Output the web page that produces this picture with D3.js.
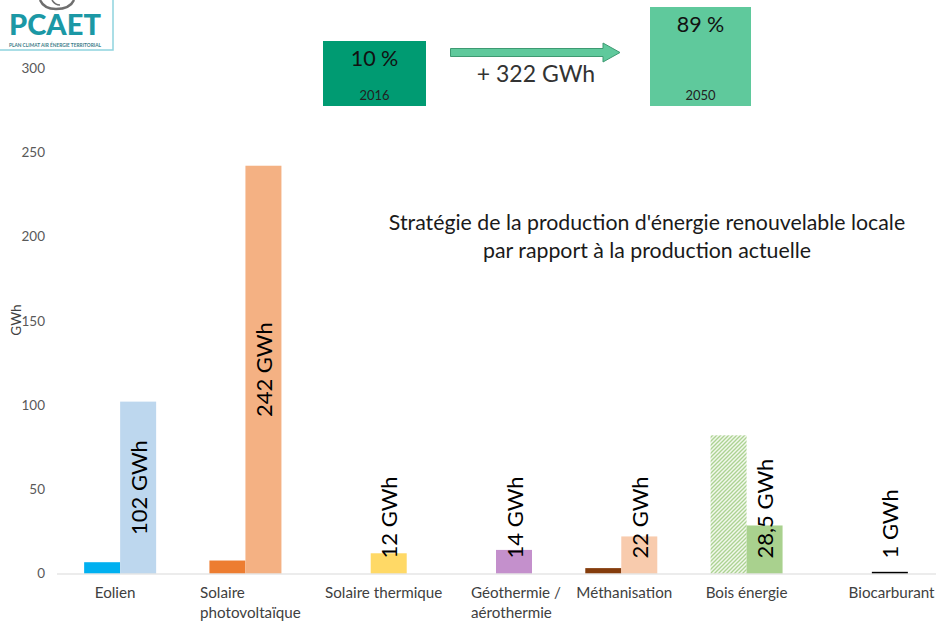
<!DOCTYPE html>
<html lang="fr">
<head>
<meta charset="utf-8">
<script src="https://cdn.jsdelivr.net/npm/d3@7"></script>
<style>
  html, body { margin: 0; padding: 0; background: #fff; }
  svg { display: block; font-family: Lato, "Open Sans", sans-serif; }
</style>
</head>
<body>
<svg id="chart" width="936" height="623"></svg>
<script>
// Production d'énergie renouvelable locale (GWh), actuelle et objectif 2050
const categories = ["Eolien", "Solaire photovoltaïque", "Solaire thermique",
  "Géothermie / aérothermie", "Méthanisation", "Bois énergie", "Biocarburant"];
const categoryLines = [["Eolien"], ["Solaire", "photovoltaïque"], ["Solaire thermique"],
  ["Géothermie /", "aérothermie"], ["Méthanisation"], ["Bois énergie"], ["Biocarburant"]];
const prodActuelle = [6.7, 7.7, 0, 0, 3.2, 82, 0];
const prod2050 = [102, 242, 12, 14, 22, 28.5, 1];
const colorsActuelle = ["#00b0f0", "#ed7d31", "#ffd966", "#c490cc", "#843c0c", "hatch", "#000000"];
const colors2050 = ["#bdd7ee", "#f4b183", "#ffd966", "#c490cc", "#f8cbad", "#a9d18e", "#000000"];
const yTicks = [0, 50, 100, 150, 200, 250, 300];
const partEnR = [{ year: "2016", pct: "10 %" }, { year: "2050", pct: "89 %" }];
const gainLabel = "+ 322 GWh";

const svg = d3.select("#chart");
const fr = d3.formatLocale({ decimal: ",", thousands: " ", grouping: [3], currency: ["", " €"] });
const fmt = v => fr.format(",")(v) + " GWh";

const baseY = 573.5;
const y = d3.scaleLinear().domain([0, 300]).range([baseY, 68]);
const x0 = d3.scaleBand().domain(categories).range([57.5, 934.5]).padding(0);
const bw = x0.bandwidth();
const x1 = d3.scaleBand().domain(["actuelle", "2050"])
  .range([bw / 2 - 36, bw / 2 + 36]).padding(0);

// Hachures pour la production bois énergie actuelle
const defs = svg.append("defs");
const pat = defs.append("pattern").attr("id", "hatch")
  .attr("patternUnits", "userSpaceOnUse").attr("width", 4).attr("height", 4);
pat.append("rect").attr("width", 4).attr("height", 4).attr("fill", "#f4f9ef");
pat.append("path").attr("d", "M-1,1 l2,-2 M0,4 l4,-4 M3,5 l2,-2")
  .attr("stroke", "#a9d18e").attr("stroke-width", 1.3);

// Axe des ordonnées (étiquettes seules)
const yAxis = d3.axisLeft(y).tickValues(yTicks).tickSize(0).tickPadding(0);
const gy = svg.append("g").attr("transform", "translate(45,0)").call(yAxis);
gy.select(".domain").remove();
gy.selectAll("text").attr("font-size", 13.5).attr("fill", "#595959")
  .attr("font-family", "Lato, sans-serif");

svg.append("text").attr("transform", "translate(21,320) rotate(-90)")
  .attr("text-anchor", "middle").attr("font-size", 13.5).attr("fill", "#404040")
  .text("GWh");

// Barres
const data = categories.map((c, i) => ({
  cat: c, i,
  bars: [
    { key: "actuelle", v: prodActuelle[i], color: colorsActuelle[i] },
    { key: "2050", v: prod2050[i], color: colors2050[i] }
  ]
}));

const groups = svg.append("g").selectAll("g").data(data).join("g")
  .attr("transform", d => `translate(${x0(d.cat)},0)`);

groups.selectAll("rect").data(d => d.bars.filter(b => b.v > 0)).join("rect")
  .attr("x", b => x1(b.key))
  .attr("width", x1.bandwidth())
  .attr("y", b => y(b.v))
  .attr("height", b => baseY - y(b.v))
  .attr("fill", b => b.color === "hatch" ? "url(#hatch)" : b.color);

// Ligne de base
svg.append("line").attr("x1", 57).attr("x2", 936).attr("y1", baseY + 0.5).attr("y2", baseY + 0.5)
  .attr("stroke", "#d9d9d9").attr("stroke-width", 1);

// Valeurs 2050 en texte vertical
groups.each(function (d) {
  const g = d3.select(this);
  const cx = x1("2050") + x1.bandwidth() / 2;
  const t = g.append("text").attr("font-size", 22).attr("fill", "#000")
    .attr("dominant-baseline", "central").text(fmt(prod2050[d.i]));
  const len = t.node().getComputedTextLength();
  const mid = (y(prod2050[d.i]) + baseY) / 2;
  const bottom = Math.min(mid + len / 2, baseY - 15);
  t.attr("transform", `translate(${cx},${bottom}) rotate(-90)`);
});

// Catégories (zones de texte légèrement décalées sous chaque groupe)
const labelShift = [-5, 5, 13, 20, 3, 0, 20];
groups.each(function (d) {
  const g = d3.select(this);
  const lines = categoryLines[d.i];
  const t = g.append("text").attr("font-size", 15.2).attr("fill", "#404040");
  lines.forEach((s, k) => t.append("tspan").attr("x", 0).attr("y", 598 + k * 20).text(s));
  const w = t.node().getBBox().width;
  t.selectAll("tspan").attr("x", bw / 2 - w / 2 + labelShift[d.i]);
});

// Titre
const title = svg.append("text").attr("text-anchor", "middle").attr("font-size", 21.3)
  .attr("fill", "#1a1a1a");
title.append("tspan").attr("x", 647).attr("y", 230)
  .text("Stratégie de la production d'énergie renouvelable locale");
title.append("tspan").attr("x", 647).attr("y", 258)
  .text("par rapport à la production actuelle");

// Part des EnR 2016 -> 2050
const boxes = [
  { x: 323, y: 41, w: 103, h: 65, fill: "#009b72" },
  { x: 650, y: 7, w: 101, h: 99, fill: "#5fc99c" }
];
boxes.forEach((b, k) => {
  svg.append("rect").attr("x", b.x).attr("y", b.y).attr("width", b.w).attr("height", b.h)
    .attr("fill", b.fill);
  svg.append("text").attr("x", b.x + b.w / 2).attr("y", b.y + 25).attr("text-anchor", "middle")
    .attr("font-size", 21.5).attr("fill", "#111").text(partEnR[k].pct);
  svg.append("text").attr("x", b.x + b.w / 2).attr("y", b.y + b.h - 6).attr("text-anchor", "middle")
    .attr("font-size", 13).attr("fill", "#222").text(partEnR[k].year);
});

svg.append("path")
  .attr("d", "M450.5,48.5 H603 V43 L620,52.5 L603,62 V56.5 H450.5 Z")
  .attr("fill", "#5fc99c").attr("stroke", "#3e9a72").attr("stroke-width", 1);
svg.append("text").attr("x", 536).attr("y", 82).attr("text-anchor", "middle")
  .attr("font-size", 23).attr("fill", "#333").text(gainLabel);

// Logo PCAET
const logo = svg.append("g");
logo.append("rect").attr("x", -1).attr("y", -1).attr("width", 114).attr("height", 51)
  .attr("fill", "#fff").attr("stroke", "#8fd3de").attr("stroke-width", 1.5);
logo.append("path").attr("d", "M40,0 Q44,9 56,9 Q70,9 74,0")
  .attr("fill", "none").attr("stroke", "#6e6e6e").attr("stroke-width", 2.5);
logo.append("path").attr("d", "M52,0 Q55,5 60,5")
  .attr("fill", "none").attr("stroke", "#6e6e6e").attr("stroke-width", 1.5);
logo.append("text").attr("x", 55).attr("y", 35).attr("text-anchor", "middle")
  .attr("font-family", "Lato, sans-serif").attr("font-weight", 900)
  .attr("font-size", 29).attr("fill", "#1b98a5").text("PCAET");
logo.append("text").attr("x", 55).attr("y", 47).attr("text-anchor", "middle")
  .attr("font-size", 4.8).attr("font-weight", 700).attr("fill", "#3a7c88")
  .text("PLAN CLIMAT AIR ÉNERGIE TERRITORIAL");
</script>
</body>
</html>
